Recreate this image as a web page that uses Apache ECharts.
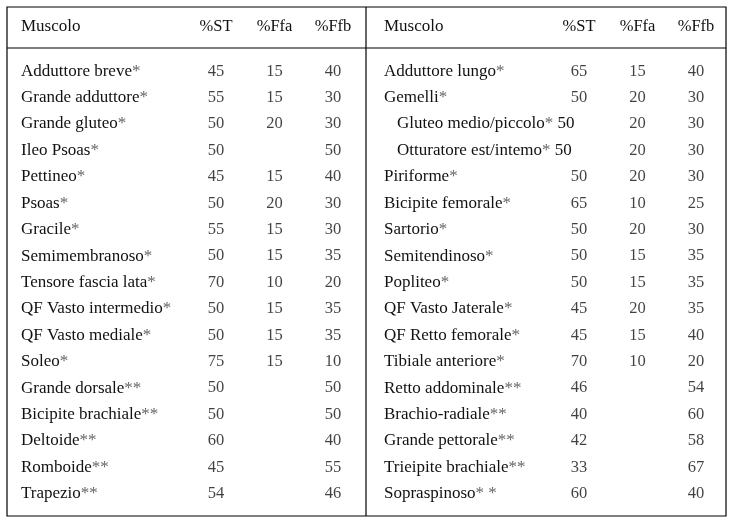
<!DOCTYPE html>
<html>
<head>
<meta charset="utf-8">
<script src="https://cdn.jsdelivr.net/npm/echarts@6/dist/echarts.min.js"></script>
<style>
html,body{margin:0;padding:0;background:#fff;}
#chart{width:730px;height:523px;}
</style>
</head>
<body>
<div id="chart"></div>
<script>
// ---- data ----
const columns = ['%ST', '%Ffa', '%Ffb'];
const headerName = 'Muscolo';

const leftNames = ['Adduttore breve*', 'Grande adduttore*', 'Grande gluteo*', 'Ileo Psoas*', 'Pettineo*', 'Psoas*', 'Gracile*', 'Semimembranoso*', 'Tensore fascia lata*', 'QF Vasto intermedio*', 'QF Vasto mediale*', 'Soleo*', 'Grande dorsale**', 'Bicipite brachiale**', 'Deltoide**', 'Romboide**', 'Trapezio**'];
const leftST  = [45, 55, 50, 50, 45, 50, 55, 50, 70, 50, 50, 75, 50, 50, 60, 45, 54];
const leftFfa = [15, 15, 20, null, 15, 20, 15, 15, 10, 15, 15, 15, null, null, null, null, null];
const leftFfb = [40, 30, 30, 50, 40, 30, 30, 35, 20, 35, 35, 10, 50, 50, 40, 55, 46];

const rightNames = ['Adduttore lungo*', 'Gemelli*', 'Gluteo medio/piccolo*', 'Otturatore est/intemo*', 'Piriforme*', 'Bicipite femorale*', 'Sartorio*', 'Semitendinoso*', 'Popliteo*', 'QF Vasto Jaterale*', 'QF Retto femorale*', 'Tibiale anteriore*', 'Retto addominale**', 'Brachio-radiale**', 'Grande pettorale**', 'Trieipite brachiale**', 'Sopraspinoso* *'];
const rightST  = [65, 50, 50, 50, 50, 65, 50, 50, 50, 45, 45, 70, 46, 40, 42, 33, 60];
const rightFfa = [15, 20, 20, 20, 20, 10, 20, 15, 15, 20, 15, 10, null, null, null, null, null];
const rightFfb = [40, 30, 30, 30, 30, 25, 30, 35, 35, 35, 40, 20, 54, 60, 58, 67, 40];
// rows whose %ST is printed right after the (indented) muscle name
const rightIndented = [false, false, true, true, false, false, false, false, false, false, false, false, false, false, false, false, false];
const leftIndented = leftNames.map(() => false);

// ---- build ----
const FONT = 'Liberation Serif';
const TXT = '#111';

function nameFormatter(names, st, indented) {
  return function (value, idx) {
    const m = value.match(/^(.*?)(\*[\* ]*)$/);
    const base = m ? m[1] : value;
    const stars = m ? m[2] : '';
    let s = '';
    if (indented[idx]) s += '{ind| }';
    s += '{n|' + base + '}';
    if (stars) s += '{a|' + stars + '}';
    if (indented[idx]) s += '{n| ' + st[idx] + '}';
    return s;
  };
}

function cells(st, ffa, ffb, indented) {
  const out = [];
  [st, ffa, ffb].forEach((arr, c) => {
    arr.forEach((v, r) => {
      if (v === null || v === undefined) return;
      if (c === 0 && indented[r]) return;
      out.push([c, r, v]);
    });
  });
  return out;
}

const gridTop = 58, gridHeight = 449, colWidth = 175.5;
const halves = [
  { left: 186.75, names: leftNames, st: leftST, ffa: leftFfa, ffb: leftFfb, ind: leftIndented },
  { left: 549.75, names: rightNames, st: rightST, ffa: rightFfa, ffb: rightFfb, ind: rightIndented }
];

const option = {
  backgroundColor: '#fff',
  animation: false,
  grid: halves.map(h => ({ left: h.left, top: gridTop, width: colWidth, height: gridHeight })),
  xAxis: halves.map((h, i) => ({
    type: 'category', gridIndex: i, position: 'top', data: columns,
    axisLine: { show: false }, axisTick: { show: false }, splitLine: { show: false },
    axisLabel: { margin: 31, verticalAlign: 'middle', color: TXT, fontFamily: FONT, fontSize: 16.5 }
  })),
  yAxis: halves.map((h, i) => ({
    type: 'category', gridIndex: i, inverse: true, data: h.names,
    axisLine: { show: false }, axisTick: { show: false }, splitLine: { show: false },
    axisLabel: {
      interval: 0, align: 'left', margin: h.left - (i === 0 ? 21 : 384),
      formatter: nameFormatter(h.names, h.st, h.ind),
      rich: {
        n: { color: TXT, fontFamily: FONT, fontSize: 17 },
        a: { color: '#666', fontFamily: FONT, fontSize: 17 },
        ind: { width: 13, fontSize: 17, fontFamily: FONT }
      }
    }
  })),
  series: halves.map((h, i) => ({
    type: 'scatter', xAxisIndex: i, yAxisIndex: i, silent: true,
    symbolSize: 1, itemStyle: { color: 'rgba(0,0,0,0)' },
    data: cells(h.st, h.ffa, h.ffb, h.ind),
    label: { show: true, position: 'inside', formatter: p => String(p.value[2]),
      color: TXT, fontFamily: FONT, fontSize: 16.5 }
  })),
  graphic: [
    { type: 'rect', shape: { x: 7, y: 7, width: 719, height: 509 }, style: { fill: null, stroke: '#000', lineWidth: 1.2 } },
    { type: 'line', shape: { x1: 7, y1: 48, x2: 726, y2: 48 }, style: { stroke: '#000', lineWidth: 1.2 } },
    { type: 'line', shape: { x1: 366, y1: 7, x2: 366, y2: 516 }, style: { stroke: '#000', lineWidth: 1.2 } },
    { type: 'text', x: 21, y: 27, style: { text: headerName, fill: TXT, font: '17px "Liberation Serif"', textVerticalAlign: 'middle', verticalAlign: 'middle' } },
    { type: 'text', x: 384, y: 27, style: { text: headerName, fill: TXT, font: '17px "Liberation Serif"', textVerticalAlign: 'middle', verticalAlign: 'middle' } }
  ]
};

const chart = echarts.init(document.getElementById('chart'), null, { renderer: 'canvas' });
chart.setOption(option);
</script>
</body>
</html>
